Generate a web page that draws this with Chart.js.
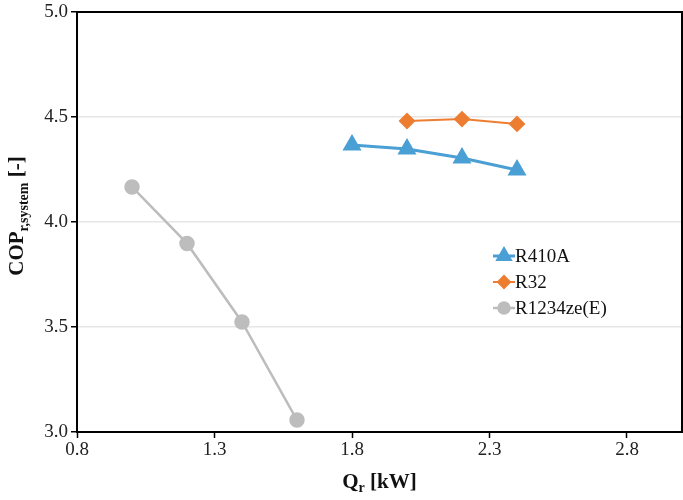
<!DOCTYPE html>
<html>
<head>
<meta charset="utf-8">
<script src="https://cdn.jsdelivr.net/npm/chart.js@4/dist/chart.umd.min.js"></script>
<style>
  html, body { margin: 0; padding: 0; background: #fff; overflow: hidden; }
  #wrap { width: 693px; height: 500px; }
</style>
</head>
<body>
<div id="wrap"><canvas id="copChart"></canvas></div>
<script>
// data
const r410aQ = [1.8, 2.0, 2.2, 2.4];
const r410aCop = [4.367, 4.348, 4.305, 4.248];
const r32Q = [2.0, 2.2, 2.4];
const r32Cop = [4.481, 4.490, 4.467];
const r1234Q = [1.0, 1.2, 1.4, 1.6];
const r1234Cop = [4.167, 3.898, 3.524, 3.057];
const xTicks = [0.8, 1.3, 1.8, 2.3, 2.8];
const yTicks = [3.0, 3.5, 4.0, 4.5, 5.0];

const serif = '"Liberation Serif", "Times New Roman", serif';

function pts(xs, ys) {
  return xs.map((x, i) => ({ x: x, y: ys[i] }));
}

// frame, axis titles with subscripts and the legend
const extras = {
  id: 'extras',
  afterDraw(chart) {
    const c = chart.ctx;
    const a = chart.chartArea;
    c.save();
    c.strokeStyle = '#000';
    c.lineWidth = 2;
    c.strokeRect(a.left, a.top, a.right - a.left, a.bottom - a.top);

    c.fillStyle = '#111';
    c.textBaseline = 'alphabetic';
    // x title
    const big = 'bold 21px ' + serif, small = 'bold 14px ' + serif;
    c.font = big; const wQ = c.measureText('Q').width;
    c.font = small; const wr = c.measureText('r').width;
    c.font = big; const wRest = c.measureText(' [kW]').width;
    let x0 = (a.left + a.right) / 2 - (wQ + wr + wRest) / 2;
    const by = 488;
    c.textAlign = 'left';
    c.font = big; c.fillText('Q', x0, by);
    c.font = small; c.fillText('r', x0 + wQ, by + 4);
    c.font = big; c.fillText(' [kW]', x0 + wQ + wr, by);

    // y title (rotated)
    c.save();
    c.translate(23, (a.top + a.bottom) / 2 - 6);
    c.rotate(-Math.PI / 2);
    c.font = big; const wC = c.measureText('COP').width;
    c.font = small; const ws = c.measureText('r,system').width;
    c.font = big; const wb = c.measureText(' [-]').width;
    x0 = -(wC + ws + wb) / 2;
    c.font = big; c.fillText('COP', x0, 0);
    c.font = small; c.fillText('r,system', x0 + wC, 5);
    c.font = big; c.fillText(' [-]', x0 + wC + ws, 0);
    c.restore();

    // legend
    const lx = 493, ly = [256, 282, 308];
    chart.data.datasets.forEach((ds, i) => {
      const y = ly[i];
      c.strokeStyle = ds.borderColor;
      c.lineWidth = ds.borderWidth;
      c.beginPath(); c.moveTo(lx, y); c.lineTo(lx + 22, y); c.stroke();
      c.fillStyle = ds.pointBackgroundColor;
      c.strokeStyle = ds.pointBackgroundColor;
      Chart.helpers.drawPoint(c, {
        pointStyle: ds.pointStyle, radius: ds.pointRadius - 1, rotation: 0, borderWidth: 1
      }, lx + 11, y);
      c.fillStyle = '#111';
      c.font = '19px ' + serif;
      c.textAlign = 'left';
      c.textBaseline = 'middle';
      c.fillText(ds.label, lx + 22, y + 1);
    });
    c.restore();
  }
};

new Chart(document.getElementById('copChart'), {
  type: 'scatter',
  data: {
    datasets: [
      {
        label: 'R410A', data: pts(r410aQ, r410aCop), showLine: true,
        borderColor: '#4a9fd4', borderWidth: 3, pointStyle: 'triangle',
        pointRadius: 8, pointBackgroundColor: '#4a9fd4', pointBorderColor: '#4a9fd4'
      },
      {
        label: 'R32', data: pts(r32Q, r32Cop), showLine: true,
        borderColor: '#ed7d31', borderWidth: 2, pointStyle: 'rectRot',
        pointRadius: 7, pointBackgroundColor: '#ed7d31', pointBorderColor: '#ed7d31'
      },
      {
        label: 'R1234ze(E)', data: pts(r1234Q, r1234Cop), showLine: true,
        borderColor: '#bdbdbd', borderWidth: 2.5, pointStyle: 'circle',
        pointRadius: 6.5, pointBackgroundColor: '#bdbdbd', pointBorderColor: '#bdbdbd'
      }
    ]
  },
  options: {
    responsive: true,
    maintainAspectRatio: false,
    animation: false,
    layout: { padding: { top: 12, right: 0, left: 0, bottom: 0 } },
    plugins: { legend: { display: false }, tooltip: { enabled: false } },
    scales: {
      x: {
        type: 'linear', min: 0.8, max: 3.0,
        afterBuildTicks(s) { s.ticks = xTicks.map(v => ({ value: v })); },
        afterFit(s) { s.height = 68; },
        grid: { drawOnChartArea: false, tickColor: '#000', tickLength: 6, tickWidth: 1.5 },
        border: { color: '#000', width: 2 },
        ticks: {
          color: '#222', font: { family: serif, size: 19 }, padding: 1,
          maxRotation: 0, callback: v => v.toFixed(1)
        }
      },
      y: {
        type: 'linear', min: 3.0, max: 5.0,
        afterBuildTicks(s) { s.ticks = yTicks.map(v => ({ value: v })); },
        afterFit(s) { s.width = 77; s.paddingTop = 0; s.paddingBottom = 0; },
        grid: { color: '#e6e6e6', lineWidth: 1.5, tickColor: '#000', tickLength: 6, tickWidth: 1.5 },
        border: { color: '#000', width: 2 },
        ticks: {
          color: '#222', font: { family: serif, size: 19 }, padding: 3,
          callback: v => v.toFixed(1)
        }
      }
    }
  },
  plugins: [extras]
});
</script>
</body>
</html>
